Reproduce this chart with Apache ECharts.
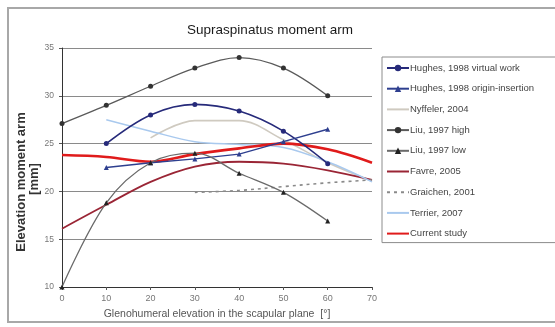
<!DOCTYPE html>
<html>
<head>
<meta charset="utf-8">
<script src="https://cdn.jsdelivr.net/npm/echarts@6/dist/echarts.min.js"></script>
<style>html,body{margin:0;padding:0;background:#fff}#c{width:555px;height:327px}</style>
</head>
<body>
<div id="c"></div>
<script>
var xVals = [0, 10, 20, 30, 40, 50, 60, 70];
var xTicks = [0, 10, 20, 30, 40, 50, 60, 70];
var yTicks = [10, 15, 20, 25, 30, 35];
var seriesNames = ['Hughes, 1998 virtual work', 'Hughes, 1998 origin-insertion', 'Nyffeler, 2004', 'Liu, 1997 high', 'Liu, 1997 low', 'Favre, 2005', 'Graichen, 2001', 'Terrier, 2007', 'Current study'];
var hasMarker = [true, true, false, true, true, false, false, false, false];
var hughesVirtual = [null, 25.0, 28.0, 29.1, 28.4, 26.3, 22.9, null];
var hughesOrigin = [null, 22.5, 23.0, 23.4, 23.9, 25.2, 26.5, null];
var nyffeler = [null, null, 25.6, 27.4, 27.4, 25.4, 23.0, 21.1];
var liuHigh = [27.1, 29.0, 31.0, 32.9, 34.0, 32.9, 30.0, null];
var liuLow = [10.0, 18.8, 23.0, 24.0, 21.9, 19.9, 16.9, null];
var favre = [16.1, 18.6, 21.0, 22.6, 23.1, 22.9, 22.2, 21.2];
var graichen = [null, null, null, 19.9, 20.1, 20.5, 20.9, 21.2];
var terrier = [null, 27.5, 26.3, 25.2, 24.9, 24.6, 23.1, 21.0];
var currentStudy = [23.8, 23.6, 23.1, 23.9, 24.5, 25.0, 24.4, 23.0];

function pairs(v) {
  var out = [];
  for (var i = 0; i < xVals.length; i++) if (v[i] !== null) out.push([xVals[i], v[i]]);
  return out;
}

var chart = echarts.init(document.getElementById('c'), null, {renderer: 'canvas'});
var font = 'Liberation Sans, Arial, sans-serif';
function line(name, data, color, width, opts) {
  var s = {
    name: name, type: 'line', data: pairs(data), smooth: 0.35,
    lineStyle: {color: color, width: width},
    itemStyle: {color: color},
    symbol: 'none', showSymbol: false, z: 2
  };
  for (var k in opts) s[k] = opts[k];
  return s;
}
var legendData = seriesNames.map(function (n, i) {
  return hasMarker[i] ? {name: n} : {name: n, itemStyle: {color: 'rgba(0,0,0,0)', borderWidth: 0, opacity: 0}};
});
var option = {
  backgroundColor: '#fff',
  animation: false,
  title: {
    text: 'Supraspinatus moment arm', left: 265, top: 18, textAlign: 'center',
    textStyle: {fontFamily: font, fontSize: 13.5, fontWeight: 'normal', color: '#1a1a1a'}
  },
  graphic: [{
    type: 'rect', shape: {x: 8, y: 8, width: 560, height: 314},
    style: {fill: null, stroke: '#a8a8a8', lineWidth: 2}, z: -1
  }, {
    type: 'text', x: 21, y: 182, rotation: Math.PI / 2,
    style: {text: 'Elevation moment arm', fontFamily: font, fontSize: 13, fontWeight: 'bold', fill: '#333', align: 'center', verticalAlign: 'middle'}
  }, {
    type: 'text', x: 34, y: 179, rotation: Math.PI / 2,
    style: {text: '[mm]', fontFamily: font, fontSize: 13, fontWeight: 'bold', fill: '#333', align: 'center', verticalAlign: 'middle'}
  }],
  legend: {
    orient: 'vertical', left: 382, top: 57,
    padding: [6, 40, 4, 4],
    itemWidth: 22, itemHeight: 8, itemGap: 10.7,
    borderColor: '#8c8c8c', borderWidth: 1, backgroundColor: '#fff',
    textStyle: {fontFamily: font, fontSize: 9.5, color: '#444', padding: [0, 0, 0, -4]},
    data: legendData
  },
  grid: {left: 62, right: 183, top: 48, bottom: 40},
  xAxis: {
    type: 'value', min: xTicks[0], max: xTicks[xTicks.length - 1], interval: 10,
    name: 'Glenohumeral elevation in the scapular plane  [°]',
    nameLocation: 'middle', nameGap: 22,
    nameTextStyle: {fontFamily: font, fontSize: 10.5, color: '#555'},
    axisLine: {lineStyle: {color: '#333', width: 1}},
    axisTick: {show: true, length: 3, lineStyle: {color: '#555'}},
    axisLabel: {fontFamily: font, fontSize: 9, color: '#777', margin: 7},
    splitLine: {show: false}
  },
  yAxis: {
    type: 'value', min: yTicks[0], max: yTicks[yTicks.length - 1], interval: 5,
    axisLine: {show: true, lineStyle: {color: '#333', width: 1}},
    axisTick: {show: true, length: 3, lineStyle: {color: '#555'}},
    axisLabel: {fontFamily: font, fontSize: 8.5, color: '#777', margin: 8},
    splitLine: {show: true, lineStyle: {color: '#8a8a8a', width: 1.2}}
  },
  series: [
    line(seriesNames[0], hughesVirtual, '#262a7a', 1.6, {symbol: 'circle', symbolSize: 5, showSymbol: true, z: 4}),
    line(seriesNames[1], hughesOrigin, '#2e3f8f', 1.4, {symbol: 'triangle', symbolSize: 5, showSymbol: true, smooth: false, z: 4}),
    line(seriesNames[2], nyffeler, '#cfcac0', 1.6, {}),
    line(seriesNames[3], liuHigh, '#5a5a5a', 1.3, {symbol: 'circle', symbolSize: 5, showSymbol: true, itemStyle: {color: '#333'}, z: 4}),
    line(seriesNames[4], liuLow, '#6a6a6a', 1.3, {symbol: 'triangle', symbolSize: 5, showSymbol: true, itemStyle: {color: '#222'}, z: 4}),
    line(seriesNames[5], favre, '#9a2535', 1.8, {}),
    line(seriesNames[6], graichen, '#8a8a8a', 1.6, {lineStyle: {color: '#8a8a8a', width: 1.6, type: [3, 4]}}),
    line(seriesNames[7], terrier, '#a9c9ee', 1.5, {}),
    line(seriesNames[8], currentStudy, '#e01b1b', 2.6, {z: 3})
  ]
};
chart.setOption(option);
</script>
</body>
</html>
